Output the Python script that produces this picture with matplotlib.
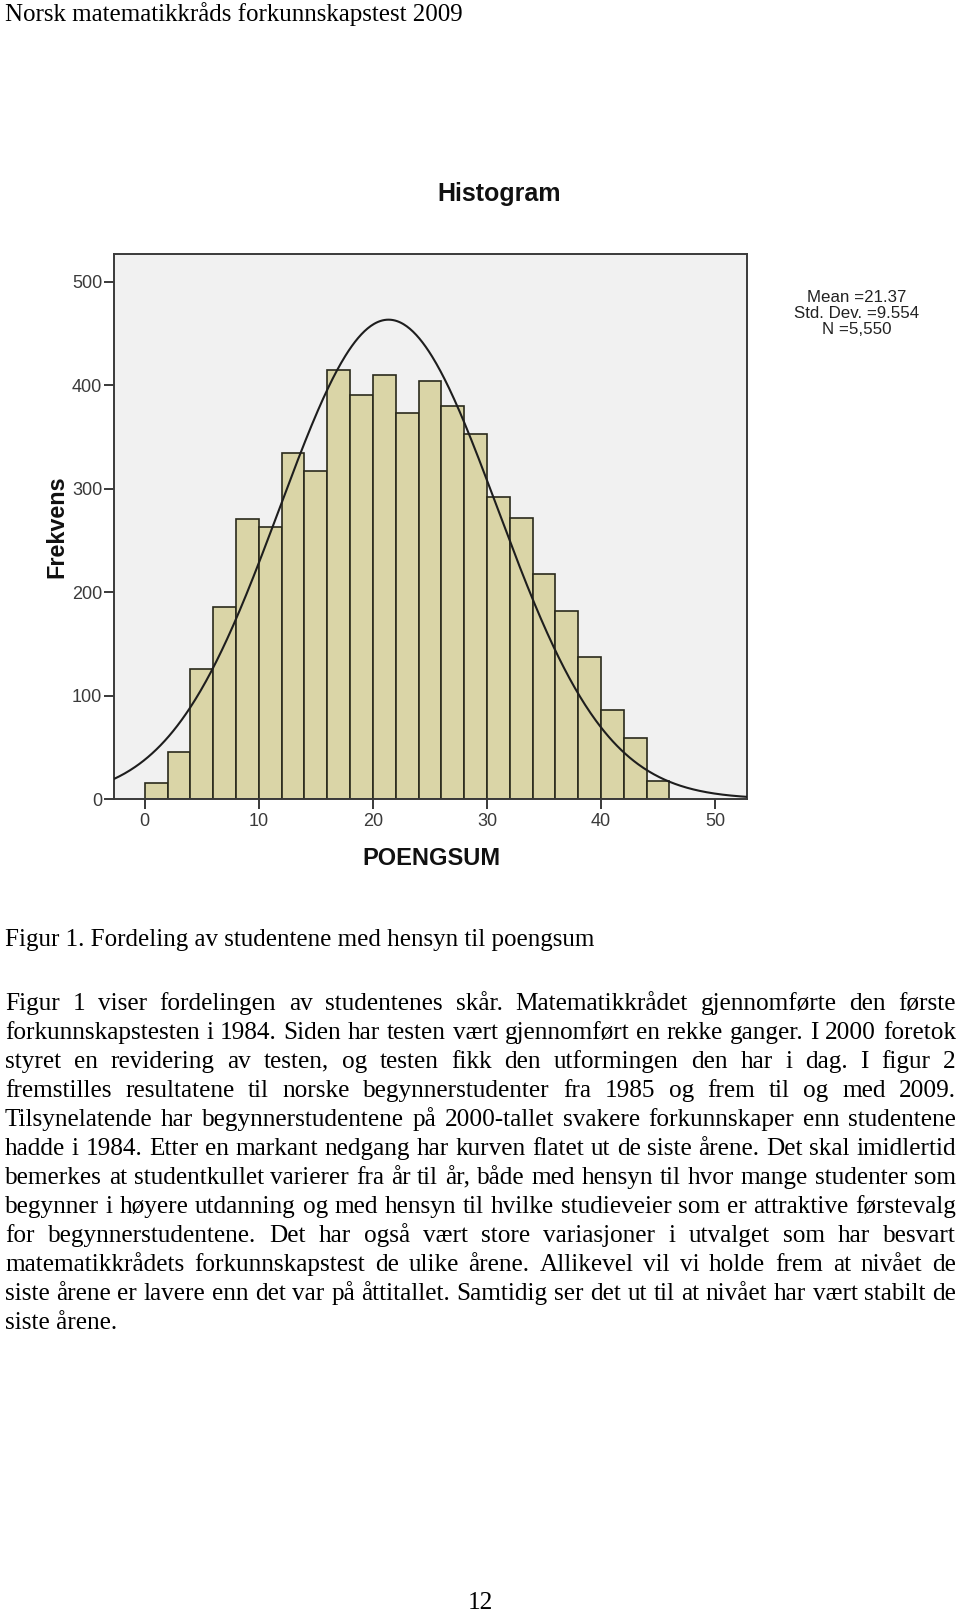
import numpy as np
import matplotlib
matplotlib.use("Agg")
import matplotlib.pyplot as plt
from matplotlib.font_manager import FontProperties

# ---------------- data ----------------
bin_edges = list(range(0, 48, 2))          # 0, 2, ..., 46
counts = [15, 45, 126, 186, 271, 263, 335, 317, 415, 391, 410, 373,
          404, 380, 353, 292, 272, 218, 182, 137, 86, 59, 17]
mean_score = 21.37
std_score = 9.554
n_students = 5550
x_ticks = [0, 10, 20, 30, 40, 50]
y_ticks = [0, 100, 200, 300, 400, 500]
stats_lines = ["Mean =21.37", "Std. Dev. =9.554", "N =5,550"]

header_text = "Norsk matematikkråds forkunnskapstest 2009"
caption_text = "Figur 1. Fordeling av studentene med hensyn til poengsum"
paragraph_lines = [
    "Figur 1 viser fordelingen av studentenes skår. Matematikkrådet gjennomførte den første",
    "forkunnskapstesten i 1984. Siden har testen vært gjennomført en rekke ganger. I 2000 foretok",
    "styret en revidering av testen, og testen fikk den utformingen den har i dag. I figur 2",
    "fremstilles resultatene til norske begynnerstudenter fra 1985 og frem til og med 2009.",
    "Tilsynelatende har begynnerstudentene på 2000-tallet svakere forkunnskaper enn studentene",
    "hadde i 1984. Etter en markant nedgang har kurven flatet ut de siste årene. Det skal imidlertid",
    "bemerkes at studentkullet varierer fra år til år, både med hensyn til hvor mange studenter som",
    "begynner i høyere utdanning og med hensyn til hvilke studieveier som er attraktive førstevalg",
    "for begynnerstudentene. Det har også vært store variasjoner i utvalget som har besvart",
    "matematikkrådets forkunnskapstest de ulike årene. Allikevel vil vi holde frem at nivået de",
    "siste årene er lavere enn det var på åttitallet. Samtidig ser det ut til at nivået har vært stabilt de",
    "siste årene.",
]
page_number = "12"

# ---------------- figure ----------------
W, H, DPI = 960, 1613, 100
fig = plt.figure(figsize=(W / DPI, H / DPI), dpi=DPI)
fig.patch.set_facecolor("white")


def fx(x):
    return x / W


def fy(y):
    return 1 - y / H


SANS = "Liberation Sans"
SERIF = "Liberation Serif"

# axes frame in pixels: left 114, right 747, top 254, bottom 799
ax = fig.add_axes([fx(114), fy(799), (747 - 114) / W, (799 - 254) / H])
ax.set_facecolor("#F1F1F1")

bin_w = bin_edges[1] - bin_edges[0]
ax.bar(bin_edges[:-1], counts, width=bin_w, align="edge",
       color="#DAD5A7", edgecolor="#2A2A1C", linewidth=1.2, zorder=2)

xlim = (-2.7, 52.8)
xs = np.linspace(xlim[0], xlim[1], 600)
curve = n_students * bin_w / (std_score * np.sqrt(2 * np.pi)) * \
    np.exp(-0.5 * ((xs - mean_score) / std_score) ** 2)
ax.plot(xs, curve, color="#1E1E1E", linewidth=1.5, zorder=3)

ax.set_xlim(*xlim)
ax.set_ylim(0, 527)
ax.set_xticks(x_ticks)
ax.set_yticks(y_ticks)
ax.set_xticklabels([str(t) for t in x_ticks])
ax.set_yticklabels([str(t) for t in y_ticks])

for sp in ax.spines.values():
    sp.set_color("#3A3A3A")
    sp.set_linewidth(1.4)

ax.tick_params(axis="both", direction="out", length=7, width=1.3,
               color="#2A2A2A", labelcolor="#3A3A3A", labelsize=13)
ax.tick_params(axis="y", pad=1.5)
ax.tick_params(axis="x", pad=3)
for lab in ax.get_xticklabels() + ax.get_yticklabels():
    lab.set_family(SANS)

ax.set_ylabel("Frekvens", family=SANS, fontsize=16.8, fontweight="bold",
              va="baseline", color="#111111")
ax.yaxis.set_label_coords((63.5 - 114) / 633, 0.5)
ax.set_xlabel("POENGSUM", family=SANS, fontsize=17, fontweight="bold",
              va="baseline", color="#111111")
ax.xaxis.set_label_coords((431 - 114) / 633, (799 - 865) / 545)

fig.text(fx(499), fy(200.5), "Histogram", family=SANS, fontsize=18,
         fontweight="bold", ha="center", va="baseline", color="#111111")

stat_baselines = [301.5, 318, 334.5]
for line, yb in zip(stats_lines, stat_baselines):
    fig.text(fx(857), fy(yb), line, family=SANS, fontsize=12.2,
             ha="center", va="baseline", color="#222222")

# ---------------- document text ----------------
fig.canvas.draw()
renderer = fig.canvas.get_renderer()


def width_px(s, size):
    fp = FontProperties(family=SERIF, size=size)
    w, h, d = renderer.get_text_width_height_descent(s, fp, ismath=False)
    return w


def fit_size(s, target, base=17.0):
    return base * target / width_px(s, base)


LEFT, RIGHT = 5, 956
# header and caption
hdr_size = fit_size(header_text, 458)
fig.text(fx(LEFT), fy(21), header_text, family=SERIF, fontsize=hdr_size,
         ha="left", va="baseline", color="black")
cap_size = fit_size(caption_text, 589)
fig.text(fx(LEFT), fy(946), caption_text, family=SERIF, fontsize=cap_size,
         ha="left", va="baseline", color="black")

# paragraph size: widest natural line fits the column
base = 17.0
maxw = max(width_px(l, base) for l in paragraph_lines[:-1])
para_size = base * (RIGHT - LEFT - 3) / maxw

first_baseline = 1010
line_gap = 29.0
for i, line in enumerate(paragraph_lines):
    yb = first_baseline + i * line_gap
    words = line.split(" ")
    if i == len(paragraph_lines) - 1:
        fig.text(fx(LEFT), fy(yb), line, family=SERIF, fontsize=para_size,
                 ha="left", va="baseline", color="black")
        continue
    ws = [width_px(w, para_size) for w in words]
    gap = (RIGHT - LEFT - sum(ws)) / (len(words) - 1)
    x = LEFT
    for w, wd in zip(words, ws):
        fig.text(fx(x), fy(yb), w, family=SERIF, fontsize=para_size,
                 ha="left", va="baseline", color="black")
        x += wd + gap

fig.text(fx(480), fy(1609), page_number, family=SERIF, fontsize=para_size,
         ha="center", va="baseline", color="black")

fig.savefig("out.png", dpi=DPI)
